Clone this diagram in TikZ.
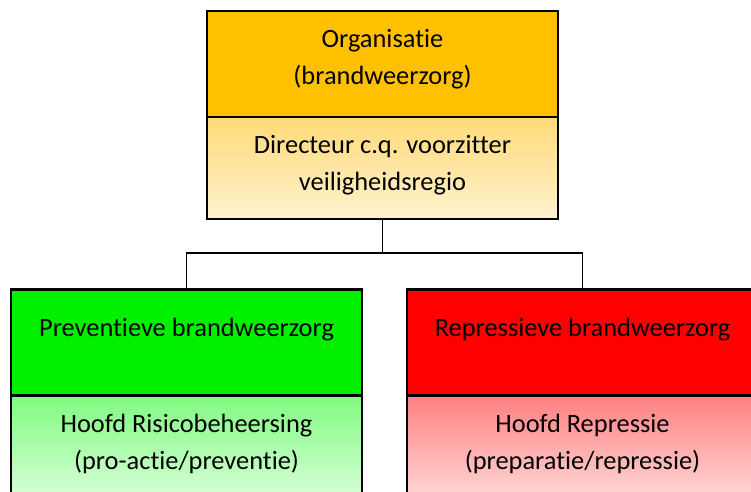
\documentclass[tikz,border=0pt]{standalone}
\usepackage{fontspec}
\setmainfont{Carlito}[Ligatures=NoCommon]
\begin{document}
\begin{tikzpicture}[x=0.75pt,y=-0.75pt,
  box/.style={draw=black, line width=1.9pt, rectangle, inner sep=0pt,
    minimum width=263.25pt},
  headbox/.style={box, minimum height=79.5pt},
  subbox/.style={box, minimum height=76.5pt},
  txt/.style={align=center, text=black, inner sep=0pt,
    font=\fontsize{19.8}{27.75}\selectfont},
  link/.style={draw=black, line width=1.1pt}]
\useasboundingbox (0,0) rectangle (751,492);
\clip (0,0) rectangle (751,492);

% top: organisation
\node[headbox, fill={rgb,255:red,255;green,192;blue,0}] (org) at (382.5,64) {};
\node[subbox, top color={rgb,255:red,255;green,218;blue,120},
  bottom color={rgb,255:red,255;green,242;blue,208}] (dir) at (382.5,168) {};
\node[txt] (orgtext) at (382.5,59) {Organisatie\\(brandweerzorg)};
\node[txt] (dirtext) at (382.5,165) {Directeur c.q. voorzitter\\veiligheidsregio};

% left: preventive
\node[headbox, fill={rgb,255:red,0;green,240;blue,0}] (prev) at (186.5,342.5) {};
\node[subbox, top color={rgb,255:red,128;green,250;blue,128},
  bottom color={rgb,255:red,215;green,255;blue,215}] (risk) at (186.5,446.5) {};
\node[txt] (prevtext) at (186.5,330) {Preventieve brandweerzorg};
\node[txt] (risktext) at (186.5,443.5) {Hoofd Risicobeheersing\\(pro-actie/preventie)};

% right: repressive
\node[headbox, fill={rgb,255:red,255;green,0;blue,0}] (rep) at (582.5,342.5) {};
\node[subbox, top color={rgb,255:red,255;green,128;blue,128},
  bottom color={rgb,255:red,255;green,215;blue,215}] (head) at (582.5,446.5) {};
\node[txt] (reptext) at (582.5,330) {Repressieve brandweerzorg};
\node[txt] (headtext) at (582.5,443.5) {Hoofd Repressie\\(preparatie/repressie)};

% connectors
\coordinate (split) at (382.5,253);
\draw[link] (dir.south) -- (split);
\draw[link] (split) -| (prev.north);
\draw[link] (split) -| (rep.north);
\end{tikzpicture}
\end{document}
